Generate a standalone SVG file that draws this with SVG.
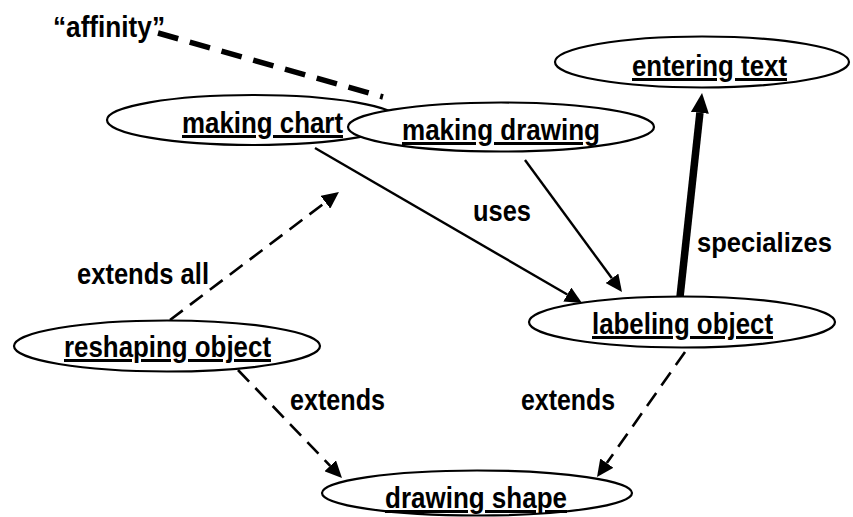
<svg xmlns="http://www.w3.org/2000/svg" width="853" height="517" viewBox="0 0 853 517">
<style>
  .node ellipse { fill: #fff; stroke: #000; stroke-width: 2.2; }
  .node text { font-family: "Liberation Sans", Arial, sans-serif; font-weight: bold; font-size: 30px; fill: #000; text-decoration: underline; }
  .lbl { font-family: "Liberation Sans", Arial, sans-serif; font-weight: bold; font-size: 30px; fill: #000; }
  .solid { stroke: #000; stroke-width: 2.4; fill: none; }
  .dash { stroke: #000; stroke-width: 2.6; fill: none; stroke-dasharray: 16 9; }
  .thick { stroke: #000; stroke-width: 7.5; fill: none; }
  .aff { stroke: #000; stroke-width: 5.5; fill: none; stroke-dasharray: 21 12; }
</style>
<defs>
  <marker id="arr" markerUnits="userSpaceOnUse" markerWidth="18" markerHeight="16" refX="0" refY="8" orient="auto">
    <path d="M0,0 L17,8 L0,16 Z" fill="#000"/>
  </marker>
  <marker id="arrBig" markerUnits="userSpaceOnUse" markerWidth="22" markerHeight="18" refX="0" refY="9" orient="auto">
    <path d="M0,0 L20,9 L0,18 Z" fill="#000"/>
  </marker>
</defs>
<g id="connectors">
  <line class="aff" x1="158" y1="33" x2="383" y2="97"/>
  <line class="solid" x1="315" y1="148" x2="567.3" y2="294.5" marker-end="url(#arr)"/>
  <line class="solid" x1="525" y1="160" x2="611.9" y2="278.3" marker-end="url(#arr)"/>
  <line class="thick" x1="680" y1="297" x2="699.9" y2="112.9" marker-end="url(#arrBig)"/>
  <line class="dash" x1="170" y1="320" x2="325.4" y2="202.3" marker-end="url(#arr)"/>
  <line class="dash" x1="238" y1="370" x2="330.2" y2="465.8" marker-end="url(#arr)"/>
  <line class="dash" x1="685" y1="352" x2="606.8" y2="463.1" marker-end="url(#arr)"/>
</g>
<g id="making-chart" class="node">
  <ellipse cx="253" cy="120" rx="146" ry="25"/>
  <text x="182" y="133" textLength="161" lengthAdjust="spacingAndGlyphs">making chart</text>
</g>
<g id="making-drawing" class="node">
  <ellipse cx="501" cy="127" rx="153" ry="24.5"/>
  <text x="402" y="140" textLength="198" lengthAdjust="spacingAndGlyphs">making drawing</text>
</g>
<g id="entering-text" class="node">
  <ellipse cx="702" cy="62" rx="147" ry="25.5"/>
  <text x="632" y="76" textLength="155" lengthAdjust="spacingAndGlyphs">entering text</text>
</g>
<g id="labeling-object" class="node">
  <ellipse cx="682" cy="322" rx="153" ry="25.5"/>
  <text x="592" y="334" textLength="181" lengthAdjust="spacingAndGlyphs">labeling object</text>
</g>
<g id="reshaping-object" class="node">
  <ellipse cx="167" cy="346" rx="153" ry="25.5"/>
  <text x="64" y="357" textLength="207" lengthAdjust="spacingAndGlyphs">reshaping object</text>
</g>
<g id="drawing-shape" class="node">
  <ellipse cx="477" cy="493" rx="155" ry="22.5"/>
  <text x="385" y="508" textLength="182" lengthAdjust="spacingAndGlyphs">drawing shape</text>
</g>
<g id="labels">
  <text class="lbl" x="53" y="37" textLength="112" lengthAdjust="spacingAndGlyphs">“affinity”</text>
  <text class="lbl" x="473" y="221" textLength="58" lengthAdjust="spacingAndGlyphs">uses</text>
  <text class="lbl" x="697" y="252" font-size="28.5" style="font-size:28.5px" textLength="135" lengthAdjust="spacingAndGlyphs">specializes</text>
  <text class="lbl" x="77" y="284" textLength="132" lengthAdjust="spacingAndGlyphs">extends all</text>
  <text class="lbl" x="290" y="410" textLength="95" lengthAdjust="spacingAndGlyphs">extends</text>
  <text class="lbl" x="521" y="410" textLength="94" lengthAdjust="spacingAndGlyphs">extends</text>
</g>
</svg>
